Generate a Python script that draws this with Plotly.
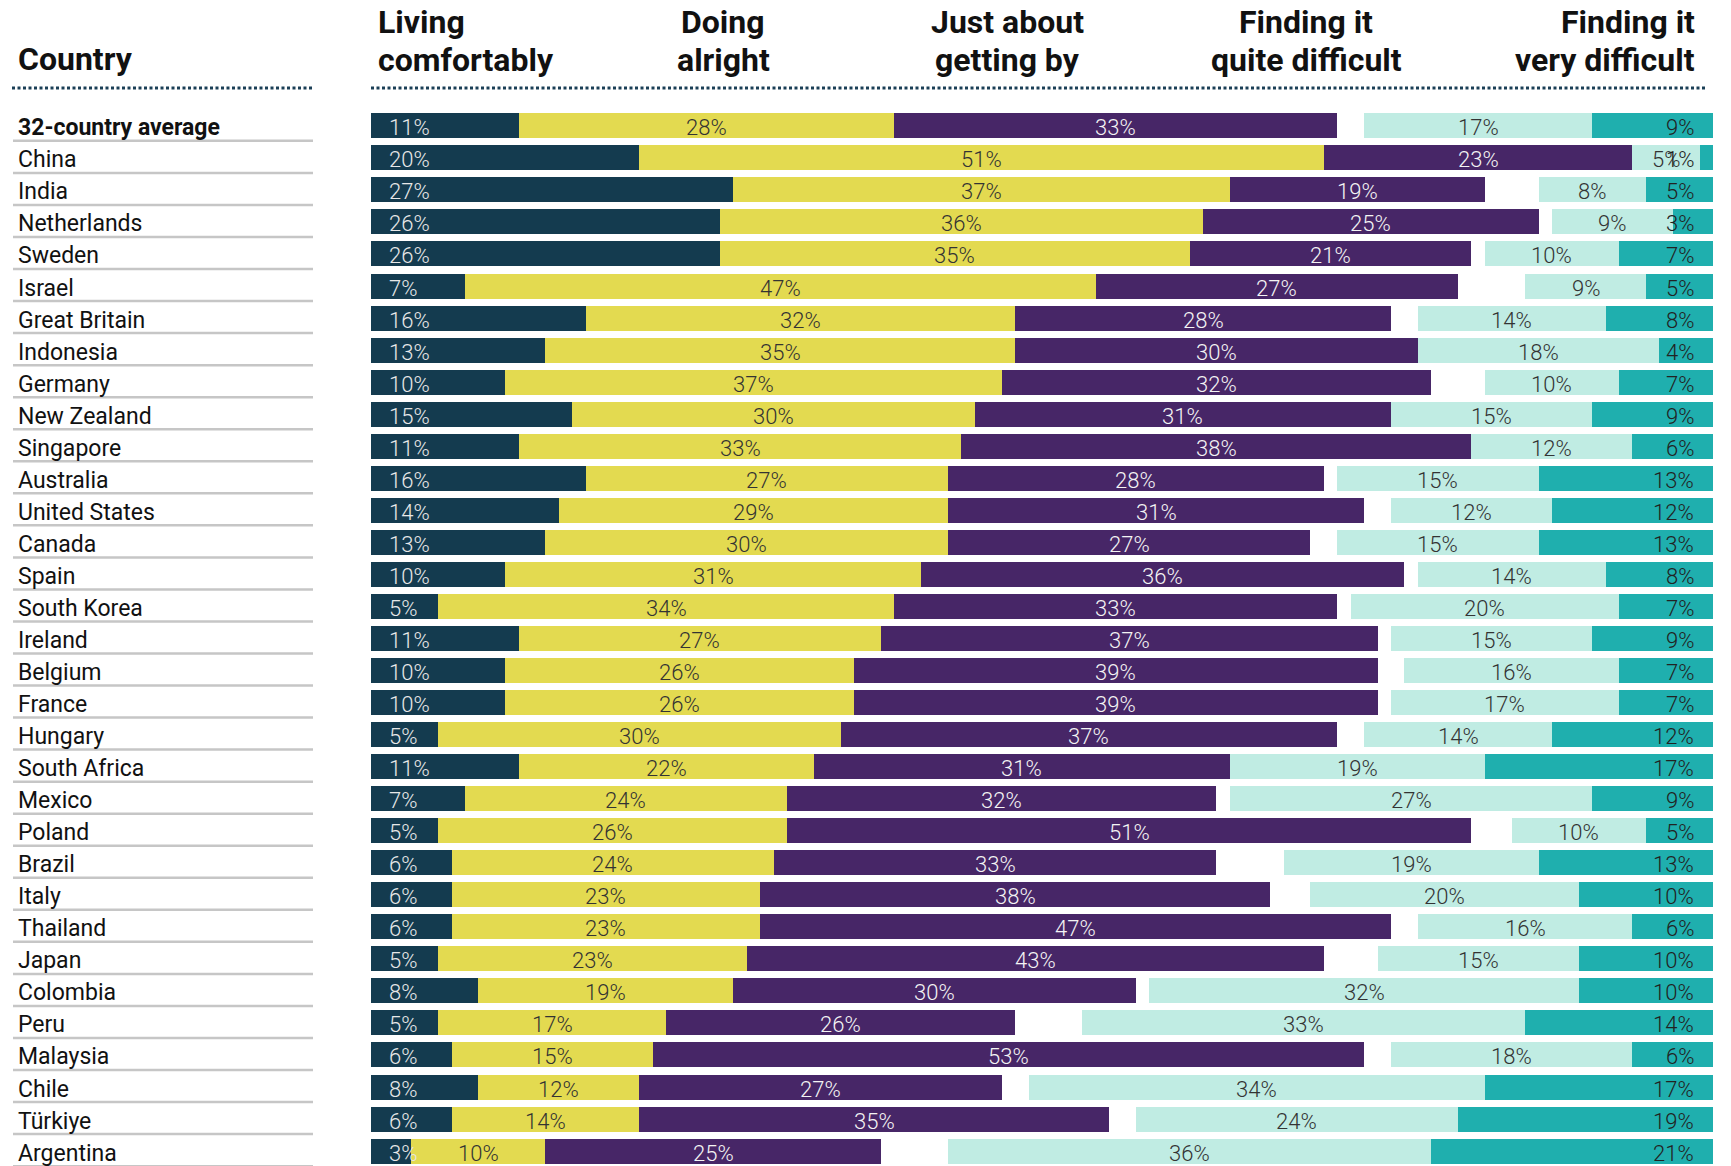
import plotly.graph_objects as go

countries = ["32-country average", "China", "India", "Netherlands", "Sweden", "Israel",
             "Great Britain", "Indonesia", "Germany", "New Zealand", "Singapore", "Australia",
             "United States", "Canada", "Spain", "South Korea", "Ireland", "Belgium", "France",
             "Hungary", "South Africa", "Mexico", "Poland", "Brazil", "Italy", "Thailand",
             "Japan", "Colombia", "Peru", "Malaysia", "Chile", "Türkiye", "Argentina"]
living = [11, 20, 27, 26, 26, 7, 16, 13, 10, 15, 11, 16, 14, 13, 10, 5, 11, 10, 10, 5, 11, 7, 5, 6, 6, 6, 5, 8, 5, 6, 8, 6, 3]
alright = [28, 51, 37, 36, 35, 47, 32, 35, 37, 30, 33, 27, 29, 30, 31, 34, 27, 26, 26, 30, 22, 24, 26, 24, 23, 23, 23, 19, 17, 15, 12, 14, 10]
getting_by = [33, 23, 19, 25, 21, 27, 28, 30, 32, 31, 38, 28, 31, 27, 36, 33, 37, 39, 39, 37, 31, 32, 51, 33, 38, 47, 43, 30, 26, 53, 27, 35, 25]
quite_diff = [17, 5, 8, 9, 10, 9, 14, 18, 10, 15, 12, 15, 12, 15, 14, 20, 15, 16, 17, 14, 19, 27, 10, 19, 20, 16, 15, 32, 33, 18, 34, 24, 36]
very_diff = [9, 1, 5, 3, 7, 5, 8, 4, 7, 9, 6, 13, 12, 13, 8, 7, 9, 7, 7, 12, 17, 9, 5, 13, 10, 6, 10, 10, 14, 6, 17, 19, 21]
headers = [["Living", "comfortably"], ["Doing", "alright"], ["Just about", "getting by"],
           ["Finding it", "quite difficult"], ["Finding it", "very difficult"]]

W, H = 1731, 1166
C_NAVY = "#143B4F"
C_YEL = "#E3DA50"
C_PUR = "#472667"
C_LTEAL = "#C0ECE3"
C_TEAL = "#1FAFAE"
FONT = "Roboto"

n = len(countries)
rows = list(range(n))

base_l = [0] * n
base_a = living
base_g = [l + a for l, a in zip(living, alright)]
base_q = [100 - q - v for q, v in zip(quite_diff, very_diff)]
base_v = [100 - v for v in very_diff]

series = [
    (living, base_l, C_NAVY, "#E8E8E8", "start"),
    (alright, base_a, C_YEL, "#333333", "middle"),
    (getting_by, base_g, C_PUR, "#F4F4F4", "middle"),
    (quite_diff, base_q, C_LTEAL, "#333333", "middle"),
    (very_diff, base_v, C_TEAL, "#222222", "end"),
]

fig = go.Figure()
annotations = []
for vals, base, col, tcol, anchor in series:
    fig.add_trace(go.Bar(
        y=rows, x=vals, base=base, orientation="h", width=0.78,
        marker=dict(color=col, line=dict(width=0)), hoverinfo="skip", showlegend=False,
    ))
    for r, v, b in zip(rows, vals, base):
        if anchor == "start":
            x, xa, xs = b, "left", 16
        elif anchor == "end":
            x, xa, xs = b + v, "right", -17
        else:
            x, xa, xs = b + v / 2, "center", 0
        annotations.append(dict(
            x=x, y=r, xref="x", yref="y", text=f"{v}%", showarrow=False,
            xanchor=xa, yanchor="middle", xshift=xs, yshift=-2,
            font=dict(family=FONT, size=22, color=tcol, weight=300),
        ))

# country labels
for r, c in zip(rows, countries):
    annotations.append(dict(
        x=16 / W, y=r, xref="paper", yref="y", text=c, showarrow=False,
        xanchor="left", yanchor="middle", yshift=-2,
        font=dict(family=FONT, size=23, color="#111111", weight=700 if r == 0 else 400),
    ))

# headers
def py(px):
    return 1 - px / H

annotations.append(dict(x=16 / W, y=py(59), xref="paper", yref="paper", text="Country",
                        showarrow=False, xanchor="left", yanchor="middle",
                        font=dict(family=FONT, size=32, color="#111111", weight=700)))
header_pos = [(376, "left"), (723, "center"), (1007, "center"), (1306, "center"), (1697, "right")]
for (hx, ha), lines in zip(header_pos, headers):
    for ly, t in zip([22, 60], lines):
        annotations.append(dict(x=hx / W, y=py(ly), xref="paper", yref="paper", text=t,
                                showarrow=False, xanchor=ha, yanchor="middle",
                                font=dict(family=FONT, size=32, color="#111111", weight=700)))

shapes = []
# dotted header lines
for x0, x1 in [(12, 312), (371, 1706)]:
    shapes.append(dict(type="line", xref="paper", yref="paper", x0=x0 / W, x1=x1 / W,
                       y0=py(88), y1=py(88), line=dict(color="#1B3F56", width=3, dash="3px,2.5px")))
# separators under country names
for r in rows:
    shapes.append(dict(type="line", xref="paper", yref="y", x0=13 / W, x1=313 / W,
                       y0=r + 0.47, y1=r + 0.47, line=dict(color="#C6C6C6", width=2.5)))

pitch = 32.04
top_center = 125.8
r0 = -top_center / pitch
r1 = (H - top_center) / pitch

fig.update_layout(
    width=W, height=H, margin=dict(l=0, r=0, t=0, b=0),
    paper_bgcolor="white", plot_bgcolor="white", barmode="overlay", bargap=0,
    xaxis=dict(domain=[371 / W, 1713 / W], range=[0, 100], visible=False, fixedrange=True),
    yaxis=dict(domain=[0, 1], range=[r1, r0], visible=False, fixedrange=True),
    annotations=annotations, shapes=shapes,
    font=dict(family=FONT),
)

fig.write_html("out.html", config={"displayModeBar": False},
               post_script="document.body.style.margin='0';document.body.style.overflow='hidden';")
